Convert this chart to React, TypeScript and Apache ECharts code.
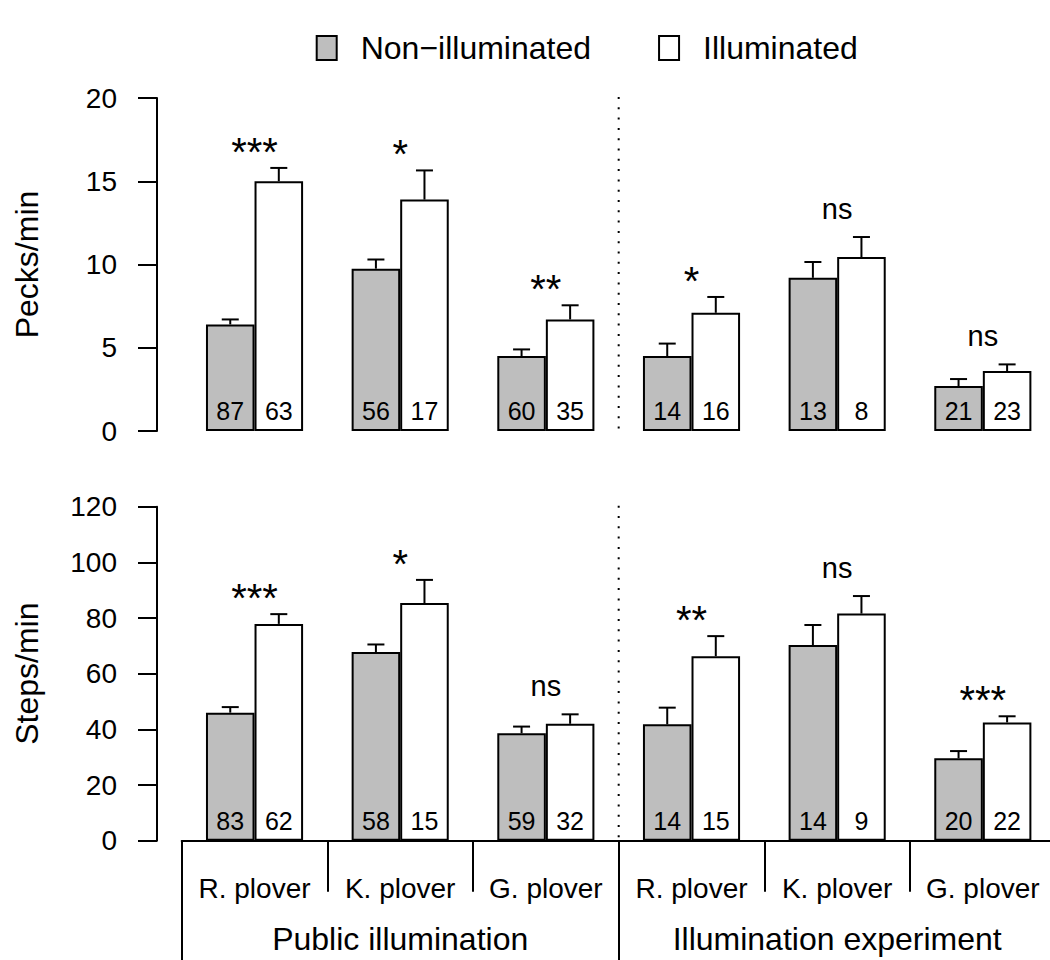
import React, { useEffect, useRef } from "react";
import * as echarts from "echarts";

const FONT = "'Liberation Sans', Arial, Helvetica, sans-serif";

const species = ["R. plover", "K. plover", "G. plover", "R. plover", "K. plover", "G. plover"];
const studies = ["Public illumination", "Illumination experiment"];
const seriesNames = ["Non\u2212illuminated", "Illuminated"];

// Pecks/min
const pecksNonMean = [6.4, 9.75, 4.5, 4.5, 9.2, 2.7];
const pecksNonSe = [0.3, 0.55, 0.4, 0.75, 0.95, 0.42];
const pecksIllMean = [15.0, 13.9, 6.7, 7.1, 10.45, 3.6];
const pecksIllSe = [0.8, 1.75, 0.85, 0.95, 1.2, 0.4];
const pecksNonN = [87, 56, 60, 14, 13, 21];
const pecksIllN = [63, 17, 35, 16, 8, 23];
const pecksSig = ["***", "*", "**", "*", "ns", "ns"];
const pecksMax = 20;
const pecksStep = 5;

// Steps/min
const stepsNonMean = [46, 67.8, 38.6, 41.8, 70.3, 29.6];
const stepsNonSe = [2, 2.7, 2.4, 6.0, 7.2, 2.6];
const stepsIllMean = [77.9, 85.4, 42.0, 66.3, 81.6, 42.5];
const stepsIllSe = [3.5, 8.3, 3.4, 7.2, 6.3, 2.2];
const stepsNonN = [83, 58, 59, 14, 14, 20];
const stepsIllN = [62, 15, 32, 15, 9, 22];
const stepsSig = ["***", "*", "ns", "**", "ns", "***"];
const stepsMax = 120;
const stepsStep = 20;

function makeOverlay(
  nonMean: number[], nonSe: number[], illMean: number[], illSe: number[],
  nonN: number[], illN: number[], sig: string[], yMax: number
) {
  return (params: any, api: any) => {
    const i = params.dataIndex;
    const band = api.size([1, 0])[0];
    const base = api.coord([i, 0]);
    const cx = base[0];
    const y0 = base[1];
    const half = band / 6;
    const children: any[] = [];
    const bars: [number, number, number, number][] = [
      [cx - half, nonMean[i], nonSe[i], nonN[i]],
      [cx + half, illMean[i], illSe[i], illN[i]],
    ];
    let topMost = Infinity;
    for (const [x, m, s, n] of bars) {
      const yt = api.coord([i, m])[1];
      const ye = api.coord([i, m + s])[1];
      topMost = Math.min(topMost, ye);
      children.push({ type: "line", shape: { x1: x, y1: yt, x2: x, y2: ye }, style: { stroke: "#000", lineWidth: 2 } });
      children.push({ type: "line", shape: { x1: x - 8.5, y1: ye, x2: x + 8.5, y2: ye }, style: { stroke: "#000", lineWidth: 2 } });
      children.push({
        type: "text", x, y: y0 - 20,
        style: { text: String(n), fontSize: 25, fontFamily: FONT, fill: "#000", align: "center", verticalAlign: "middle" },
      });
    }
    const star = sig[i] !== "ns";
    children.push({
      type: "text", x: cx, y: topMost - (star ? 16 : 28.5),
      style: { text: sig[i], fontSize: star ? 40 : 29, fontFamily: FONT, fill: "#000", align: "center", verticalAlign: "middle" },
    });
    if (i === 3) {
      const xl = cx - band / 2;
      const yTop = api.coord([i, yMax])[1];
      children.push({
        type: "line",
        shape: { x1: xl, y1: yTop - 1, x2: xl, y2: y0 + 3 },
        style: { stroke: "#000", lineWidth: 2, lineDash: [2, 8.3] },
      });
    }
    return { type: "group", children };
  };
}

export default function App() {
  const ref = useRef<HTMLDivElement>(null);
  useEffect(() => {
    if (!ref.current) return;
    const chart = echarts.init(ref.current, null, { renderer: "svg" });
    const axisLineStyle = { color: "#000", width: 2 };
    const yAxisCommon = {
      type: "value" as const,
      offset: 24.7,
      axisLine: { show: true, lineStyle: axisLineStyle },
      axisTick: { show: true, length: 19, lineStyle: axisLineStyle },
      axisLabel: { fontSize: 28, color: "#000", margin: 40, fontFamily: FONT },
      splitLine: { show: false },
      nameLocation: "middle" as const,
      nameGap: 114,
      nameTextStyle: { fontSize: 32, color: "#000", fontFamily: FONT },
    };
    const barCommon = {
      type: "bar" as const,
      barGap: "0%",
      barCategoryGap: "33.333%",
      silent: true,
    };
    const gridCommon = { left: 181.7, right: -5.66, outerBoundsMode: "none", containLabel: false };
    chart.setOption({
      animation: false,
      backgroundColor: "#fff",
      textStyle: { fontFamily: FONT },
      legend: {
        left: 315.7,
        top: 32,
        padding: 0,
        itemGap: 67,
        itemWidth: 20,
        itemHeight: 24,
        icon: "rect",
        selectedMode: false,
        itemStyle: { borderColor: "#000", borderWidth: 2 },
        textStyle: { fontSize: 32, color: "#000", fontFamily: FONT, padding: [0, 0, 0, 19] },
        data: seriesNames,
      },
      grid: [
        { ...gridCommon, top: 98, height: 333 },
        { ...gridCommon, top: 506.7, height: 334 },
      ],
      xAxis: [
        { type: "category", gridIndex: 0, data: species, show: false },
        {
          type: "category", gridIndex: 1, data: species, position: "bottom", offset: 10,
          axisLine: { show: true, lineStyle: axisLineStyle },
          axisTick: { show: true, length: 51, lineStyle: axisLineStyle },
          axisLabel: { fontSize: 28, color: "#000", margin: 24, fontFamily: FONT, interval: 0 },
        },
        {
          type: "category", gridIndex: 1, data: studies, position: "bottom", offset: 10,
          axisLine: { show: false },
          axisTick: { show: true, length: 110, lineStyle: axisLineStyle },
          axisLabel: { fontSize: 32, color: "#000", margin: 72, fontFamily: FONT, interval: 0 },
        },
      ],
      yAxis: [
        { ...yAxisCommon, gridIndex: 0, min: 0, max: pecksMax, interval: pecksStep, name: "Pecks/min" },
        { ...yAxisCommon, gridIndex: 1, min: 0, max: stepsMax, interval: stepsStep, name: "Steps/min" },
      ],
      series: [
        { ...barCommon, name: seriesNames[0], xAxisIndex: 0, yAxisIndex: 0, data: pecksNonMean,
          itemStyle: { color: "#bebebe", borderColor: "#000", borderWidth: 2 } },
        { ...barCommon, name: seriesNames[1], xAxisIndex: 0, yAxisIndex: 0, data: pecksIllMean,
          itemStyle: { color: "#ffffff", borderColor: "#000", borderWidth: 2 } },
        { ...barCommon, name: seriesNames[0], xAxisIndex: 1, yAxisIndex: 1, data: stepsNonMean,
          itemStyle: { color: "#bebebe", borderColor: "#000", borderWidth: 2 } },
        { ...barCommon, name: seriesNames[1], xAxisIndex: 1, yAxisIndex: 1, data: stepsIllMean,
          itemStyle: { color: "#ffffff", borderColor: "#000", borderWidth: 2 } },
        {
          type: "custom", xAxisIndex: 0, yAxisIndex: 0, z: 5, clip: false, silent: true,
          data: pecksNonMean.map((v, i) => [i, v]),
          renderItem: makeOverlay(pecksNonMean, pecksNonSe, pecksIllMean, pecksIllSe, pecksNonN, pecksIllN, pecksSig, pecksMax),
        },
        {
          type: "custom", xAxisIndex: 1, yAxisIndex: 1, z: 5, clip: false, silent: true,
          data: stepsNonMean.map((v, i) => [i, v]),
          renderItem: makeOverlay(stepsNonMean, stepsNonSe, stepsIllMean, stepsIllSe, stepsNonN, stepsIllN, stepsSig, stepsMax),
        },
      ],
    });
    return () => chart.dispose();
  }, []);
  return (
    <div
      ref={ref}
      style={{ position: "absolute", left: 0, top: 0, width: 1050, height: 960, background: "#fff" }}
    />
  );
}
